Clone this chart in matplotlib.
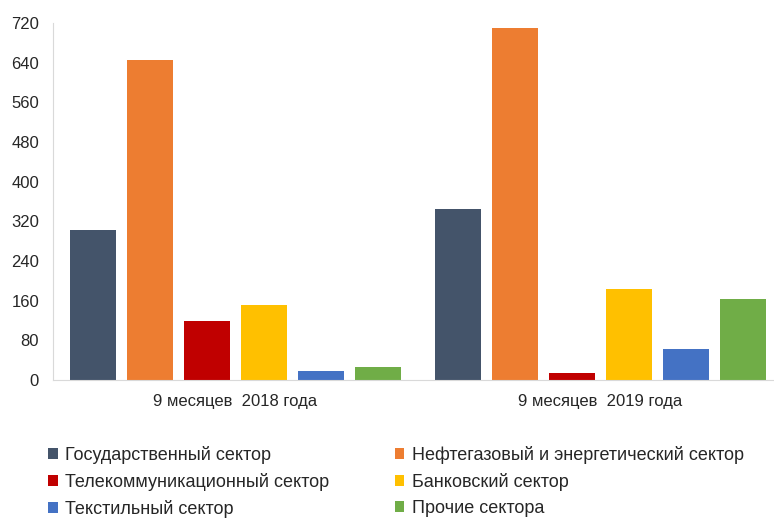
import matplotlib.pyplot as plt
import numpy as np

plt.rcParams['font.family'] = ['Liberation Sans', 'DejaVu Sans']

periods = ['9 месяцев  2018 года', '9 месяцев  2019 года']
sectors = ['Государственный сектор', 'Нефтегазовый и энергетический сектор',
           'Телекоммуникационный сектор', 'Банковский сектор',
           'Текстильный сектор', 'Прочие сектора']
colors = ['#44546A', '#ED7D31', '#C00000', '#FFC000', '#4472C4', '#70AD47']

gov = [303, 345]
oil = [646, 709]
telecom = [118, 14]
bank = [151, 184]
textile = [18, 62]
other = [26, 163]

series = [gov, oil, telecom, bank, textile, other]

fig = plt.figure(figsize=(7.74, 5.18), dpi=100)
ax = fig.add_axes([53 / 774, 1 - 380 / 518, 730 / 774, 357 / 518])

x = np.arange(len(periods))
step = 0.156
width = 0.126
bars = []
for i in range(len(series)):
    off = (i - 2.5) * step
    b = ax.bar(x + off, series[i], width, color=colors[i], label=sectors[i])
    bars.append(b)

ax.set_xlim(-0.5, 1.5)
ax.set_ylim(0, 720)
ax.set_yticks(np.arange(0, 721, 80))
ax.set_xticks(x)
ax.set_xticklabels(periods, fontsize=10.5, color='#262626')
ax.tick_params(axis='both', length=0, colors='#262626', labelsize=12)
ax.tick_params(axis='x', pad=10)
ax.tick_params(axis='y', pad=10)

for s in ['top', 'right']:
    ax.spines[s].set_visible(False)
for s in ['left', 'bottom']:
    ax.spines[s].set_color('#D9D9D9')

# legend goes row by row: reorder for column-major fill
order = [0, 2, 4, 1, 3, 5]
fig.legend([bars[i] for i in order], [sectors[i] for i in order],
           ncol=2, loc='upper left', bbox_to_anchor=(32 / 774, 1 - 430 / 518),
           frameon=False, fontsize=13, handlelength=0.55, handleheight=0.55,
           handletextpad=0.4, columnspacing=3.6, labelspacing=0.5,
           labelcolor='#262626')

fig.savefig('out.png', dpi=100)
